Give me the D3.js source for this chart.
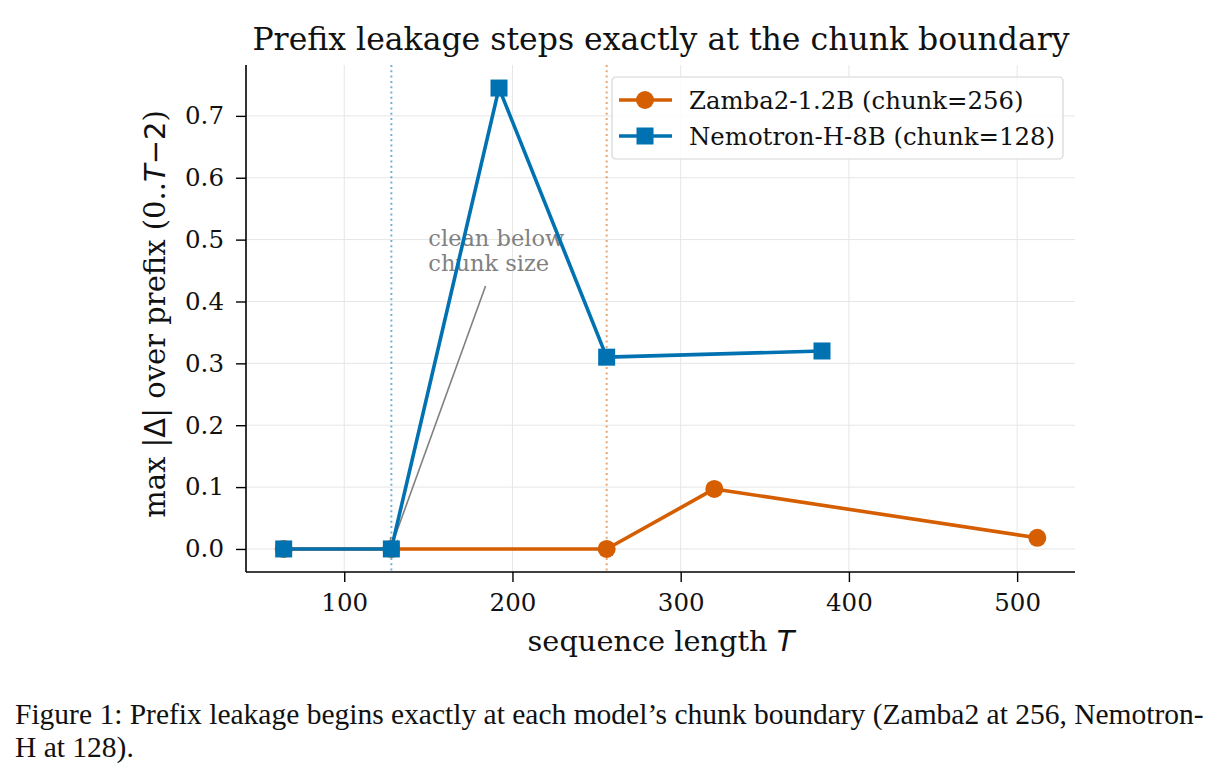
<!DOCTYPE html>
<html>
<head>
	<title>prefix-leakage</title>
	<meta charset="utf-8">
	<style type="text/css">
		body { margin: 0; background: #fff; }
		text { font-family: "DejaVu Serif", serif; }
	</style>
</head>
<body>
<script type="text/javascript" src="https://cdn.jsdelivr.net/npm/d3@7/dist/d3.min.js"></script>
<script type="text/javascript">
	/*=========DATA=========*/
	var zambaT = [64, 128, 256, 320, 512];
	var zambaVal = [0, 0, 0, 0.097, 0.018];
	var nemoT = [64, 128, 192, 256, 384];
	var nemoVal = [0, 0, 0.745, 0.31, 0.32];
	var xTicks = [100, 200, 300, 400, 500];
	var yTicks = [0, 0.1, 0.2, 0.3, 0.4, 0.5, 0.6, 0.7];
	var chunks = [128, 256];
	var seriesNames = ["Zamba2-1.2B (chunk=256)", "Nemotron-H-8B (chunk=128)"];

	/*===========COLOR=======*/
	var orange = "#D55E00";
	var blue = "#0072B2";

	/*=====SIZE SVG======*/
	var w = 1219, h = 780;
	var svg = d3.select("body").append("svg").attr("width", w).attr("height", h);
	var L = 246, R = 1075, T = 65, B = 572;

	// matplotlib style 5% margins
	var x = d3.scaleLinear().domain([41.6, 534.4]).range([L, R]);
	var y = d3.scaleLinear().domain([-0.03725, 0.78225]).range([B, T]);

	// grid
	svg.append("g").selectAll("line").data(xTicks).enter().append("line")
		.attr("x1", d => x(d)).attr("x2", d => x(d)).attr("y1", T).attr("y2", B)
		.attr("stroke", "#e6e6e6").attr("stroke-width", 1);
	svg.append("g").selectAll("line").data(yTicks).enter().append("line")
		.attr("y1", d => y(d)).attr("y2", d => y(d)).attr("x1", L).attr("x2", R)
		.attr("stroke", "#e6e6e6").attr("stroke-width", 1);

	// chunk boundaries
	svg.append("g").selectAll("line").data(chunks).enter().append("line")
		.attr("x1", d => x(d)).attr("x2", d => x(d)).attr("y1", T).attr("y2", B)
		.attr("stroke", (d, i) => i == 0 ? blue : orange)
		.attr("stroke-opacity", 0.55)
		.attr("stroke-width", 2)
		.attr("stroke-dasharray", "2,3.3");

	// axes
	var xAxis = svg.append("g").attr("transform", "translate(0," + B + ")")
		.call(d3.axisBottom(x).tickValues(xTicks).tickSize(10).tickPadding(12).tickFormat(d3.format("d")));
	var yAxis = svg.append("g").attr("transform", "translate(" + L + ",0)")
		.call(d3.axisLeft(y).tickValues(yTicks).tickSize(10).tickPadding(12).tickFormat(d3.format(".1f")));
	[xAxis, yAxis].forEach(function(a) {
		a.select(".domain").remove();
		a.selectAll("line").attr("stroke", "#000").attr("stroke-width", 1.4);
		a.selectAll("text").attr("font-size", "24.5px").attr("fill", "#111")
			.style("font-family", "DejaVu Serif");
	});
	svg.append("line").attr("x1", L).attr("x2", R).attr("y1", B).attr("y2", B)
		.attr("stroke", "#000").attr("stroke-width", 1.6);
	svg.append("line").attr("x1", L).attr("x2", L).attr("y1", T).attr("y2", B)
		.attr("stroke", "#000").attr("stroke-width", 1.6);

	// annotation
	var annX = 150, annY = 0.45;
	var ann = svg.append("text").attr("x", x(annX)).attr("y", y(annY))
		.attr("font-size", "22.5px").attr("fill", "#808080");
	ann.append("tspan").attr("x", x(annX)).attr("dy", "-1.1em").text("clean below");
	ann.append("tspan").attr("x", x(annX)).attr("dy", "1.1em").text("chunk size");
	svg.append("defs").append("marker").attr("id", "arr")
		.attr("viewBox", "0 0 10 10").attr("refX", 10).attr("refY", 5)
		.attr("markerWidth", 9).attr("markerHeight", 9).attr("orient", "auto")
		.attr("markerUnits", "userSpaceOnUse")
		.append("path").attr("d", "M0,0 L10,5 L0,10").attr("fill", "none")
		.attr("stroke", "#808080").attr("stroke-width", 1.6);
	svg.append("line")
		.attr("x1", x(184)).attr("y1", y(0.425))
		.attr("x2", x(128)).attr("y2", y(0.004))
		.attr("stroke", "#808080").attr("stroke-width", 1.6)
		.attr("marker-end", "url(#arr)");

	/*=========LINES============*/
	var line = d3.line().x(d => x(d[0])).y(d => y(d[1]));
	var zamba = zambaT.map((t, i) => [t, zambaVal[i]]);
	var nemo = nemoT.map((t, i) => [t, nemoVal[i]]);

	svg.append("path").datum(zamba).attr("d", line).attr("fill", "none")
		.attr("stroke", orange).attr("stroke-width", 3.6).attr("stroke-linejoin", "round");
	svg.append("g").selectAll("circle").data(zamba).enter().append("circle")
		.attr("cx", d => x(d[0])).attr("cy", d => y(d[1])).attr("r", 9).attr("fill", orange);

	svg.append("path").datum(nemo).attr("d", line).attr("fill", "none")
		.attr("stroke", blue).attr("stroke-width", 3.6).attr("stroke-linejoin", "round");
	svg.append("g").selectAll("rect").data(nemo).enter().append("rect")
		.attr("x", d => x(d[0]) - 8.5).attr("y", d => y(d[1]) - 8.5)
		.attr("width", 17).attr("height", 17).attr("fill", blue);

	/*=========LEGEND============*/
	var lg = svg.append("g").attr("transform", "translate(612,77)");
	lg.append("rect").attr("width", 451).attr("height", 82).attr("rx", 4)
		.attr("fill", "#fff").attr("fill-opacity", 0.85)
		.attr("stroke", "#d6d6d6").attr("stroke-width", 1.2);
	seriesNames.forEach(function(name, i) {
		var yy = 23 + i * 36;
		var c = i == 0 ? orange : blue;
		lg.append("line").attr("x1", 7).attr("x2", 60).attr("y1", yy).attr("y2", yy)
			.attr("stroke", c).attr("stroke-width", 3.6);
		if (i == 0) {
			lg.append("circle").attr("cx", 33).attr("cy", yy).attr("r", 9).attr("fill", c);
		} else {
			lg.append("rect").attr("x", 24.5).attr("y", yy - 8.5).attr("width", 17).attr("height", 17).attr("fill", c);
		}
		lg.append("text").attr("x", 77).attr("y", yy + 9).attr("font-size", "24.4px")
			.attr("fill", "#111").text(name);
	});

	/*=========TEXT============*/
	svg.append("text").attr("x", 661).attr("y", 50).attr("text-anchor", "middle")
		.attr("font-size", "31.5px").attr("fill", "#111")
		.text("Prefix leakage steps exactly at the chunk boundary");

	var xl = svg.append("text").attr("x", 661).attr("y", 651).attr("text-anchor", "middle")
		.attr("font-size", "28.8px").attr("fill", "#111");
	xl.append("tspan").text("sequence length ");
	xl.append("tspan").attr("font-style", "italic").style("font-family", "DejaVu Sans").text("T");

	var yl = svg.append("text").attr("transform", "translate(165,314) rotate(-90)")
		.attr("text-anchor", "middle").attr("font-size", "29px").attr("fill", "#111");
	yl.append("tspan").text("max |");
	yl.append("tspan").style("font-family", "DejaVu Sans").text("Δ");
	yl.append("tspan").text("| over prefix (0..");
	yl.append("tspan").attr("font-style", "italic").style("font-family", "DejaVu Sans").text("T");
	yl.append("tspan").style("font-family", "DejaVu Sans").text("−2");
	yl.append("tspan").text(")");

	var cap = svg.append("text").attr("font-size", "29.5px").attr("fill", "#111")
		.style("font-family", "Liberation Serif");
	cap.append("tspan").attr("x", 15).attr("y", 724)
		.text("Figure 1: Prefix leakage begins exactly at each model’s chunk boundary (Zamba2 at 256, Nemotron-");
	cap.append("tspan").attr("x", 15).attr("y", 757).text("H at 128).");
</script>
</body>
</html>
